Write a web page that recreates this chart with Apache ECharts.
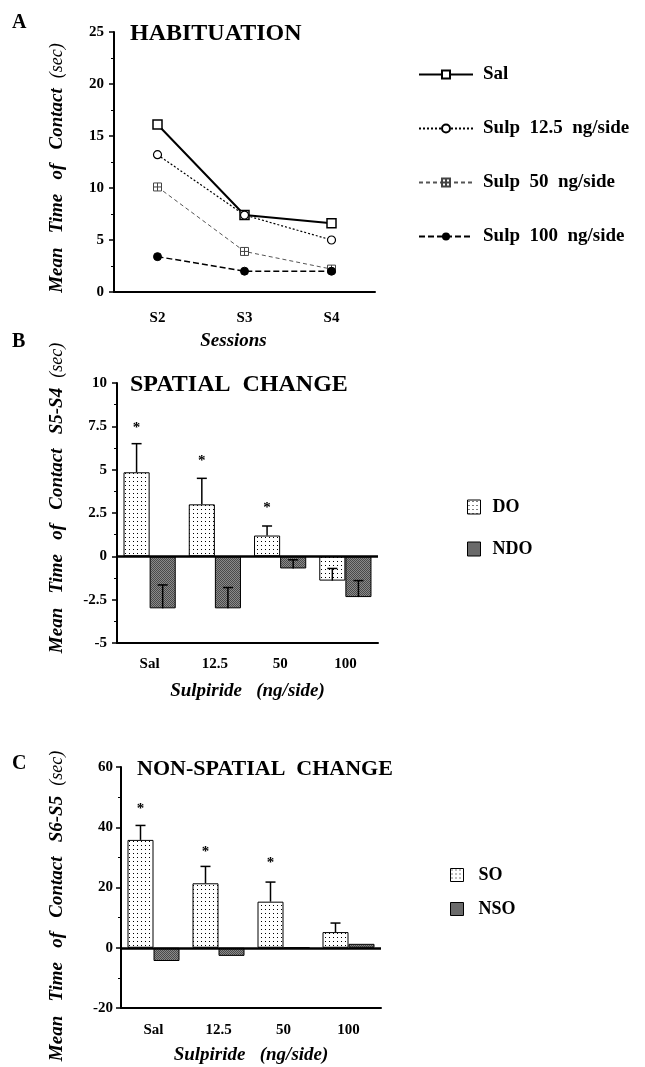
<!DOCTYPE html>
<html>
<head>
<meta charset="utf-8">
<script src="https://cdn.jsdelivr.net/npm/echarts@6/dist/echarts.min.js"></script>
<style>
  html, body { margin: 0; padding: 0; background: #fff; }
  #chart { width: 645px; height: 1067px; }
</style>
</head>
<body>
<div id="chart"></div>
<script>
// panel A: habituation
const sessions = ['S2', 'S3', 'S4'];
const salHab = [16.1, 7.4, 6.6];
const sulp125Hab = [13.2, 7.4, 5.0];
const sulp50Hab = [10.1, 3.9, 2.2];
const sulp100Hab = [3.4, 2.0, 2.0];

// panel B: spatial change (S5-S4)
const doses = ['Sal', '12.5', '50', '100'];
const doMean = [4.85, 3.0, 1.2, -1.4];
const doSem = [1.65, 1.5, 0.55, 0.7];
const ndoMean = [-3.0, -3.0, -0.7, -2.35];
const ndoSem = [1.35, 1.2, 0.5, 0.95];
const doStar = [7.4, 5.5, 2.8, null];

// panel C: non-spatial change (S6-S5)
const soMean = [35.8, 21.4, 15.3, 5.2];
const soSem = [4.8, 5.6, 6.5, 3.0];
const nsoMean = [-4.4, -2.7, 0, 1.3];
const soStar = [46, 31.7, 28, null];

const FONT = 'Liberation Serif';

function dotPattern() {
    let c = document.createElement('canvas');
    c.width = 4; c.height = 4;
    let ctx = c.getContext('2d');
    ctx.fillStyle = '#fff';
    ctx.fillRect(0, 0, 4, 4);
    ctx.fillStyle = '#000';
    ctx.fillRect(1, 1, 1, 1);
    return {image: c, repeat: 'repeat'};
}

function darkPattern() {
    let c = document.createElement('canvas');
    c.width = 2; c.height = 2;
    let ctx = c.getContext('2d');
    ctx.fillStyle = '#8a8a8a';
    ctx.fillRect(0, 0, 2, 2);
    ctx.fillStyle = '#4a4a4a';
    ctx.fillRect(0, 0, 1, 1);
    ctx.fillRect(1, 1, 1, 1);
    return {image: c, repeat: 'repeat'};
}

const tickLabel = {color: '#000', fontFamily: FONT, fontWeight: 'bold', fontSize: 15};
const blackLine = {lineStyle: {color: '#000', width: 2}};
const nameStyle = {fontFamily: FONT, fontWeight: 'bold', fontStyle: 'italic', fontSize: 19, color: '#000'};

function pairs(means, sems) {
    return means.map((m, i) => [i, m, m + sems[i]]);
}

// error bars drawn upward from the bar end, shifted to the bar's half of the band
function errorSeries(name, data, side, xi) {
    return {
        name: name,
        type: 'custom',
        xAxisIndex: xi,
        yAxisIndex: xi,
        silent: true,
        z: 5,
        data: data,
        renderItem: function (params, api) {
            let band = api.size([1, 0])[0];
            let p0 = api.coord([api.value(0), api.value(1)]);
            let p1 = api.coord([api.value(0), api.value(2)]);
            let x = p0[0] + side * band * 0.2;
            return {
                type: 'group',
                children: [
                    {type: 'line', shape: {x1: x, y1: p0[1], x2: x, y2: p1[1]}, style: {stroke: '#000', lineWidth: 1.5}},
                    {type: 'line', shape: {x1: x - 5, y1: p1[1], x2: x + 5, y2: p1[1]}, style: {stroke: '#000', lineWidth: 1.5}}
                ]
            };
        }
    };
}

function starSeries(stars, xi) {
    let data = [];
    stars.forEach((v, i) => { if (v !== null) data.push([i, v]); });
    return {
        type: 'custom',
        xAxisIndex: xi,
        yAxisIndex: xi,
        silent: true,
        data: data,
        renderItem: function (params, api) {
            let band = api.size([1, 0])[0];
            let p = api.coord([api.value(0), api.value(1)]);
            return {
                type: 'text',
                style: {
                    x: p[0] - band * 0.2, y: p[1], text: '*',
                    fill: '#000', font: 'bold 15px ' + FONT,
                    textAlign: 'center', textVerticalAlign: 'middle'
                }
            };
        }
    };
}

function yName(text, x, y) {
    return {
        type: 'text',
        x: x, y: y,
        rotation: Math.PI / 2,
        style: {
            text: text,
            textAlign: 'center',
            textVerticalAlign: 'middle',
            fill: '#000',
            rich: {
                b: {fontFamily: FONT, fontWeight: 'bold', fontStyle: 'italic', fontSize: 19},
                n: {fontFamily: FONT, fontStyle: 'italic', fontSize: 18}
            }
        }
    };
}

function heading(text, left, top, size) {
    return {
        text: text, left: left, top: top, padding: 0,
        textStyle: {fontFamily: FONT, fontWeight: 'bold', fontSize: size, color: '#000'}
    };
}

let chart = echarts.init(document.getElementById('chart'));
let option = {
    backgroundColor: '#fff',
    animation: false,
    title: [
        heading('A', 12, 13, 20),
        heading('B', 12, 332, 20),
        heading('C', 12, 754, 20),
        heading('HABITUATION', 130, 22, 24),
        heading('SPATIAL  CHANGE', 130, 373, 24),
        heading('NON-SPATIAL  CHANGE', 137, 758, 22)
    ],
    graphic: [
        yName('{b|Mean   Time   of   Contact}   {n|(sec)}', 57, 168),
        yName('{b|Mean   Time   of   Contact   S5-S4}   {n|(sec)}', 57, 498),
        yName('{b|Mean   Time   of   Contact   S6-S5}   {n|(sec)}', 57, 906)
    ],
    legend: [
        {
            orient: 'vertical', left: 413, top: 60,
            itemWidth: 54, itemHeight: 10, itemGap: 35,
            data: ['Sal', 'Sulp  12.5  ng/side', 'Sulp  50  ng/side', 'Sulp  100  ng/side'],
            textStyle: {fontFamily: FONT, fontWeight: 'bold', fontSize: 19, color: '#000', padding: [0, 0, 0, 5]}
        },
        {
            orient: 'vertical', left: 462, top: 493,
            itemWidth: 13, itemHeight: 14, itemGap: 24,
            icon: 'rect',
            data: ['DO', 'NDO'],
            itemStyle: {borderColor: '#000', borderWidth: 1},
            textStyle: {fontFamily: FONT, fontWeight: 'bold', fontSize: 18, color: '#000', padding: [0, 0, 0, 7]}
        },
        {
            orient: 'vertical', left: 445, top: 861,
            itemWidth: 13, itemHeight: 13, itemGap: 16,
            icon: 'rect',
            data: ['SO', 'NSO'],
            itemStyle: {borderColor: '#000', borderWidth: 1},
            textStyle: {fontFamily: FONT, fontWeight: 'bold', fontSize: 18, color: '#000', padding: [0, 0, 0, 10]}
        }
    ],
    grid: [
        {left: 114, top: 32, width: 261, height: 260},
        {left: 117, top: 383, width: 261, height: 260},
        {left: 121, top: 767, width: 260, height: 241}
    ],
    xAxis: [
        {
            gridIndex: 0, type: 'category', data: sessions,
            axisLine: blackLine,
            axisTick: {alignWithLabel: true, length: 6, lineStyle: {color: '#000', width: 1.5}},
            axisLabel: Object.assign({margin: 19}, tickLabel),
            name: 'Sessions', nameLocation: 'middle', nameGap: 40,
            nameTextStyle: Object.assign({padding: [0, 22, 0, 0]}, nameStyle)
        },
        {
            gridIndex: 1, type: 'category', data: doses,
            axisLine: {onZero: false, lineStyle: {color: '#000', width: 2}},
            axisTick: {show: false},
            axisLabel: Object.assign({margin: 14}, tickLabel),
            name: 'Sulpiride   (ng/side)', nameLocation: 'middle', nameGap: 39,
            nameTextStyle: nameStyle
        },
        {
            gridIndex: 2, type: 'category', data: doses,
            axisLine: {onZero: false, lineStyle: {color: '#000', width: 2}},
            axisTick: {show: false},
            axisLabel: Object.assign({margin: 15}, tickLabel),
            name: 'Sulpiride   (ng/side)', nameLocation: 'middle', nameGap: 38,
            nameTextStyle: nameStyle
        }
    ],
    yAxis: [
        {
            gridIndex: 0, type: 'value', min: 0, max: 25, interval: 5,
            axisLine: {show: true, lineStyle: {color: '#000', width: 2}},
            axisTick: {show: true, length: 5, lineStyle: {color: '#000', width: 1.5}},
            minorTick: {show: true, splitNumber: 2, length: 3, lineStyle: {color: '#000'}},
            splitLine: {show: false},
            axisLabel: Object.assign({margin: 10}, tickLabel)
        },
        {
            gridIndex: 1, type: 'value', min: -5, max: 10, interval: 2.5,
            axisLine: {show: true, lineStyle: {color: '#000', width: 2}},
            axisTick: {show: true, length: 5, lineStyle: {color: '#000', width: 1.5}},
            minorTick: {show: true, splitNumber: 2, length: 3, lineStyle: {color: '#000'}},
            splitLine: {show: false},
            axisLabel: Object.assign({margin: 10}, tickLabel)
        },
        {
            gridIndex: 2, type: 'value', min: -20, max: 60, interval: 20,
            axisLine: {show: true, lineStyle: {color: '#000', width: 2}},
            axisTick: {show: true, length: 5, lineStyle: {color: '#000', width: 1.5}},
            minorTick: {show: true, splitNumber: 2, length: 3, lineStyle: {color: '#000'}},
            splitLine: {show: false},
            axisLabel: Object.assign({margin: 8}, tickLabel)
        }
    ],
    series: [
        {
            name: 'Sal', type: 'line', data: salHab,
            symbol: 'rect', symbolSize: 9,
            lineStyle: {color: '#000', width: 2},
            itemStyle: {color: '#fff', borderColor: '#000', borderWidth: 1.5}
        },
        {
            name: 'Sulp  12.5  ng/side', type: 'line', data: sulp125Hab,
            symbol: 'circle', symbolSize: 8,
            lineStyle: {color: '#000', width: 1.2, type: [2, 2]},
            itemStyle: {color: '#fff', borderColor: '#000', borderWidth: 1.2}
        },
        {
            name: 'Sulp  50  ng/side', type: 'line', data: sulp50Hab,
            symbol: 'path://M0,0L10,0L10,10L0,10Z M5,0L5,10 M0,5L10,5', symbolSize: 8,
            lineStyle: {color: '#555', width: 1, type: [4, 3]},
            itemStyle: {color: '#fff', borderColor: '#444', borderWidth: 1}
        },
        {
            name: 'Sulp  100  ng/side', type: 'line', data: sulp100Hab,
            symbol: 'circle', symbolSize: 8,
            lineStyle: {color: '#000', width: 1.5, type: [6, 3]},
            itemStyle: {color: '#000', borderColor: '#000'}
        },
        {
            name: 'DO', type: 'bar', xAxisIndex: 1, yAxisIndex: 1, data: doMean,
            barWidth: '40%', barGap: '0%',
            itemStyle: {color: dotPattern(), borderColor: '#000', borderWidth: 1},
            markLine: {
                silent: true, symbol: 'none', label: {show: false},
                lineStyle: {color: '#000', width: 2.5, type: 'solid'},
                data: [{yAxis: 0}]
            }
        },
        {
            name: 'NDO', type: 'bar', xAxisIndex: 1, yAxisIndex: 1, data: ndoMean,
            barWidth: '40%', barGap: '0%',
            itemStyle: {color: darkPattern(), borderColor: '#000', borderWidth: 1}
        },
        errorSeries('DO err', pairs(doMean, doSem), -1, 1),
        errorSeries('NDO err', pairs(ndoMean, ndoSem), 1, 1),
        starSeries(doStar, 1),
        {
            name: 'SO', type: 'bar', xAxisIndex: 2, yAxisIndex: 2, data: soMean,
            barWidth: '40%', barGap: '0%',
            itemStyle: {color: dotPattern(), borderColor: '#000', borderWidth: 1},
            markLine: {
                silent: true, symbol: 'none', label: {show: false},
                lineStyle: {color: '#000', width: 2.5, type: 'solid'},
                data: [{yAxis: 0}]
            }
        },
        {
            name: 'NSO', type: 'bar', xAxisIndex: 2, yAxisIndex: 2, data: nsoMean,
            barWidth: '40%', barGap: '0%',
            itemStyle: {color: darkPattern(), borderColor: '#000', borderWidth: 1}
        },
        errorSeries('SO err', pairs(soMean, soSem), -1, 2),
        starSeries(soStar, 2)
    ]
};
chart.setOption(option);
</script>
</body>
</html>
